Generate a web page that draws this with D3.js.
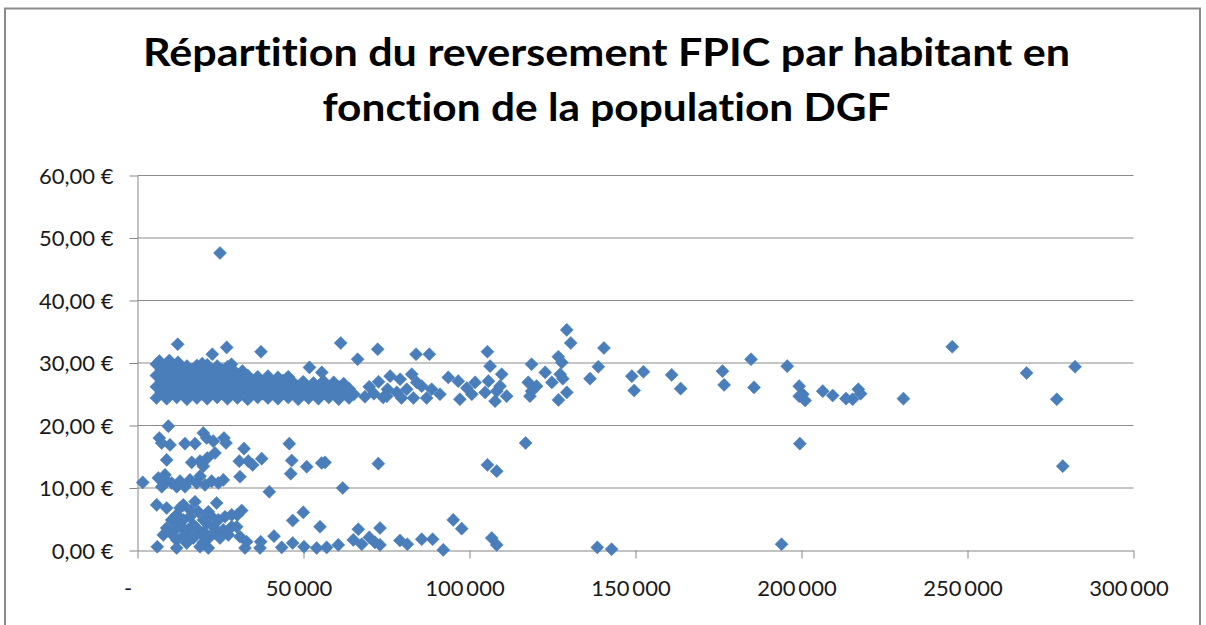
<!DOCTYPE html>
<html>
<head>
<meta charset="utf-8">
<script src="https://cdn.jsdelivr.net/npm/d3@7"></script>
<style>
  body { margin: 0; background: #fff; }
  svg { display: block; }
  .titre { font-family: Lato, "Open Sans", sans-serif; font-weight: bold; fill: #000; font-variant-ligatures: none; }
  .axe text { font-family: Lato, "Open Sans", sans-serif; font-size: 22px; fill: #1a1a1a; }
  .axe path, .axe line { stroke: #868686; }
  .grille line { stroke: #8c8c8c; stroke-width: 1.2; }
</style>
</head>
<body>
<div id="chart"></div>
<script>
// textes
var titleLines = ["Répartition du reversement FPIC par habitant en", "fonction de la population DGF"];

// graduations
var yTicks = [0, 10, 20, 30, 40, 50, 60];
var xTicks = [0, 50000, 100000, 150000, 200000, 250000, 300000];

// [population DGF, reversement FPIC par habitant en €]
// bande dense 24-30 € des petites communes
var bandeDense = [
  [5700,24.4],[8800,24.3],[11800,24.5],[14900,24.2],[17900,24.4],[21000,24.3],[24000,24.5],[27100,24.3],[30100,24.4],[33200,24.2],
  [36200,24.5],[39300,24.4],[42300,24.3],[45400,24.5],[48400,24.2],[51500,24.4],[54500,24.3],[57600,24.5],[60600,24.2],[63700,24.4],
  [7200,25.3],[10300,25.2],[13300,25.4],[16400,25.3],[19400,25.1],[22500,25.4],[25500,25.3],[28600,25.2],[31600,25.4],[34700,25.3],
  [37700,25.1],[40800,25.3],[43800,25.4],[46900,25.2],[49900,25.3],[53000,25.1],[56000,25.4],[59100,25.3],[62100,25.2],[65200,25.0],
  [5700,26.2],[8800,26.1],[11800,26.3],[14900,26.2],[17900,26.0],[21000,26.3],[24000,26.2],[27100,26.1],[30100,26.3],[33200,26.2],
  [36200,26.0],[39300,26.2],[42300,26.3],[45400,26.1],[48400,26.2],[51500,26.0],[54500,26.3],[57600,26.1],[60600,26.2],[63700,25.9],
  [7200,27.1],[10300,27.0],[13300,27.2],[16400,27.1],[19400,27.0],[22500,27.2],[25500,27.1],[28600,27.0],[31600,27.2],[34700,27.1],
  [37700,26.9],[40800,27.0],[43800,27.2],[46900,26.9],[49900,27.0],[53000,26.8],[56000,27.1],[59100,26.9],[62100,26.7],
  [5700,28.0],[8800,27.9],[11800,28.1],[14900,28.0],[17900,28.1],[21000,27.9],[24000,28.0],[27100,28.1],[30100,27.9],[33200,28.0],
  [36200,27.8],[39300,27.9],[42300,27.7],[45400,27.8],[55500,28.5],
  [7200,28.9],[10300,29.0],[13300,28.8],[16400,28.9],[19400,29.0],[22500,28.8],[25500,28.9],[28600,29.0],[31600,28.7],[51800,29.3],
  [5700,29.8],[8800,29.9],[11800,29.7],[14900,29.5],[17900,29.6],[21000,29.7],[24000,29.5],[27100,29.4],
  [6600,30.3],[9600,30.4],[12200,30.1],[19500,29.9],[28300,29.8]
];

// points isolés au-dessus de 30 €
var bandeHaute = [
  [12100,33.0],[26870,32.5],[22530,31.4],[37200,31.8],[61200,33.2],[66300,30.6],[72350,32.2],[83900,31.4],[87900,31.4],
  [105400,31.8],[130500,33.2],[129300,35.3],[140500,32.4],[126750,31.0],[127800,30.1],[245400,32.6],[184800,30.6],
  [24850,47.6]
];

// communes moyennes et grandes, 24-30 €
var grandesCommunes = [
  [68500,24.6],[69800,26.2],[71200,25.1],[72600,27.0],[74000,24.5],[75300,25.8],[76100,27.9],[75100,24.7],[78100,25.3],[79100,27.4],
  [81100,25.8],[82600,28.2],[83100,24.4],[84100,26.9],[85600,26.3],[79500,24.4],[87100,24.4],[88600,25.8],[91100,25.0],[93600,27.7],
  [96600,27.1],[97100,24.2],[99200,26.0],[100700,25.0],[101700,26.9],[105700,27.1],[104700,25.3],[106200,29.5],[107700,23.9],[108200,25.5],
  [109200,26.3],[109700,28.2],[111200,24.7],[117700,26.9],[118700,25.5],[118700,29.8],[118200,24.7],[120200,26.3],[122800,28.5],[124800,26.9],
  [126800,24.1],[127300,28.2],[128100,27.5],[129300,25.3],[136300,27.5],[138800,29.4],[148900,27.9],[149600,25.6],[152400,28.6],[160900,28.1],
  [163600,25.9],[176200,28.7],[176700,26.5],[185700,26.1],[195700,29.5],[199300,26.3],[199300,24.7],[200400,25.0],[201100,24.0],[206400,25.5],
  [209400,24.8],[213400,24.3],[215400,24.2],[217100,25.8],[217800,25.1],[230700,24.3],[267800,28.4],[276900,24.2],[282400,29.4]
];

// tranche 9-20 €
var trancheMoyenne = [
  [9280,19.9],[6570,18.0],[7290,17.2],[9790,16.9],[14300,17.1],[17320,17.1],[19820,18.8],[20840,18.0],[22830,17.5],[26050,18.0],
  [26650,17.2],[8790,14.5],[16320,14.1],[18830,14.3],[21030,14.8],[23340,15.6],[19820,13.5],[32080,16.3],[30660,14.3],[33370,14.3],
  [37400,14.7],[34700,13.7],[30870,11.8],[45720,17.1],[46450,14.4],[46150,12.3],[50970,13.4],[55480,14.0],[56480,14.1],[72530,13.9],
  [1570,10.9],[61810,10.0],[39700,9.4],
  [6270,11.6],[8790,11.1],[7290,10.2],[10300,10.8],[12800,11.1],[14300,10.2],[15810,11.3],[17830,10.8],[18830,11.9],[20330,10.5],
  [22350,11.1],[24340,10.8],[25840,11.3],[11810,10.2],[8280,12.1],
  [105400,13.7],[108200,12.7],[116900,17.2],[199500,17.1],[278700,13.5]
];

// tranche 0-8 €
var trancheBasse = [
  [5780,7.3],[8790,6.8],[12800,6.8],[11800,5.7],[10300,4.9],[13800,4.9],[15810,5.4],[17320,7.8],[18330,6.2],[19820,4.9],
  [21330,6.2],[20840,4.4],[22830,3.8],[24340,4.9],[25840,3.3],[8790,3.6],[7770,2.5],[11300,3.3],[13310,3.8],[15300,3.3],
  [16810,4.1],[18830,2.8],[21840,2.2],[24850,2.0],[11810,1.7],[14820,1.2],[16810,2.0],[5960,0.6],[11800,0.4],[18830,0.6],
  [21330,0.4],[19820,1.3],[27350,2.5],[28370,3.8],[29880,3.8],[30870,2.2],[32890,1.4],[32380,0.4],[28370,5.7],[31380,6.4],
  [30060,5.7],[26350,5.4],[23840,7.6],[13800,7.3],[17800,3.6],[20000,3.0],[23300,2.8],[14000,2.5],[12000,4.3],[22000,5.6],
  [16000,6.4],[10000,2.8],
  [46750,4.8],[49940,6.1],[54970,3.8],[66510,3.4],[73040,3.6],[41110,2.3],[37100,1.4],[43430,0.5],[46750,1.2],[50150,0.6],
  [53970,0.4],[56980,0.5],[60480,0.9],[65000,1.7],[67530,1.0],[69820,2.1],[71530,1.3],[73040,0.9],[79050,1.6],[81270,1.0],
  [85600,1.8],[88900,1.8],[92100,0.1],[95100,4.9],[97650,3.5],[106700,2.0],[108200,0.9],[138500,0.5],[142800,0.2],[194000,1.0],
  [36900,0.4]
];

var communes = bandeDense.concat(bandeHaute, grandesCommunes, trancheMoyenne, trancheBasse);

var W = 1206, H = 625;
var margin = {top: 175.5, right: 72.5, bottom: 74.5, left: 137.5};

var fr = d3.formatLocale({decimal: ",", thousands: "\u2009", grouping: [3], currency: ["", "\u00a0€"]});
var fmtEuro = fr.format("$,.2f");
var fmtPop = fr.format(",.0f");

var svg = d3.select("#chart").append("svg")
    .attr("width", W)
    .attr("height", H);

// cadre du graphique
svg.append("rect")
    .attr("x", 5).attr("y", 8.5)
    .attr("width", 1195).attr("height", 640)
    .attr("fill", "none")
    .attr("stroke", "#8c8c8c")
    .attr("stroke-width", 2);

// titre
var titre = svg.append("text")
    .attr("class", "titre")
    .attr("text-anchor", "middle")
    .style("font-size", "39px");
var titleWidths = [927, 568];
var titleBase = [66, 121];
titleLines.forEach(function(t, i) {
  titre.append("tspan")
      .attr("x", 606.5)
      .attr("y", titleBase[i])
      .attr("textLength", titleWidths[i])
      .attr("lengthAdjust", "spacingAndGlyphs")
      .text(t);
});

var x = d3.scaleLinear()
    .domain([0, 300000])
    .range([margin.left, W - margin.right]);
var y = d3.scaleLinear()
    .domain([0, 60])
    .range([H - margin.bottom, margin.top]);

// quadrillage horizontal
svg.append("g")
    .attr("class", "grille")
    .selectAll("line")
    .data(yTicks.filter(function(d) { return d > 0; }))
    .enter().append("line")
      .attr("x1", x(0))
      .attr("x2", x(300000))
      .attr("y1", function(d) { return y(d); })
      .attr("y2", function(d) { return y(d); });

// axe Y
var axeY = svg.append("g")
    .attr("class", "axe")
    .attr("transform", "translate(" + x(0) + ",0)")
    .call(d3.axisLeft(y).tickValues(yTicks).tickSize(8).tickSizeOuter(0).tickPadding(16).tickFormat(fmtEuro));
axeY.selectAll("text").attr("dy", "0.36em");

// axe X
var axeX = svg.append("g")
    .attr("class", "axe")
    .attr("transform", "translate(0," + y(0) + ")")
    .call(d3.axisBottom(x).tickValues(xTicks).tickSize(8).tickSizeOuter(0).tickPadding(22)
      .tickFormat(function(d) { return d === 0 ? "-" : fmtPop(d); }));
axeX.selectAll("text")
    .attr("dx", function(d) { return d === 0 ? -10 : -5; });

// points en losange
var losange = d3.symbol().type(d3.symbolSquare).size(85);
svg.append("g")
    .selectAll("path")
    .data(communes)
    .enter().append("path")
      .attr("d", losange)
      .attr("transform", function(d) {
        return "translate(" + x(d[0]) + "," + y(d[1]) + ") rotate(45)";
      })
      .attr("fill", "#4a7ebb")
      .attr("stroke", "#4a7ebb")
      .attr("stroke-width", 0.5);
</script>
</body>
</html>
